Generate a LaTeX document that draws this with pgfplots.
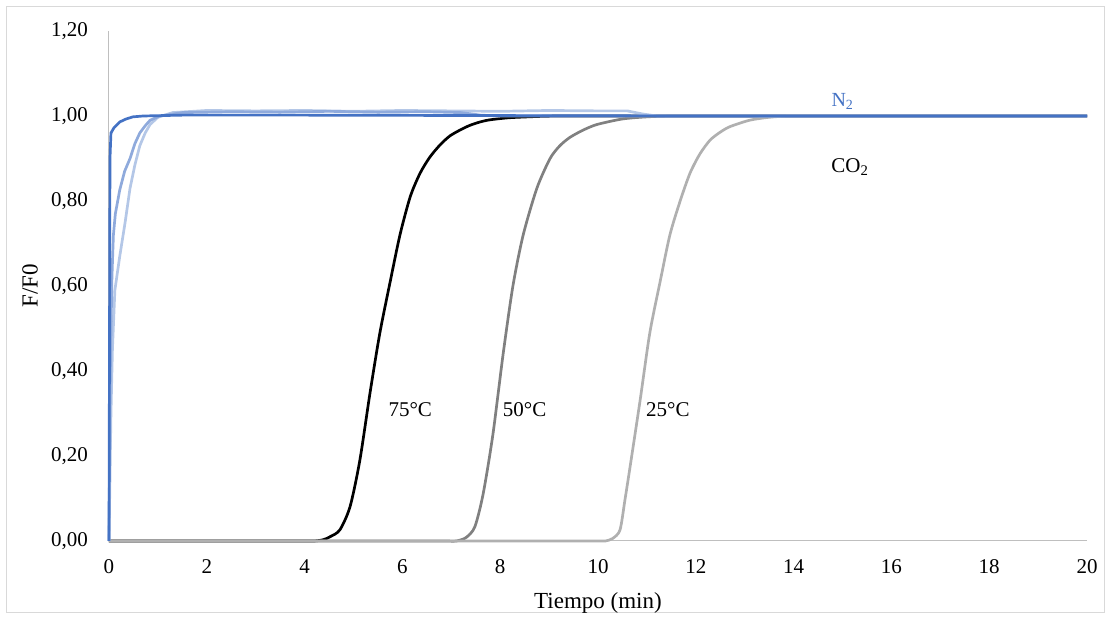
\documentclass[border=0pt]{standalone}
\usepackage{pgfplots}
\pgfplotsset{compat=1.18}
\usepackage{fontspec}
\setmainfont{Liberation Serif}
\definecolor{nA}{HTML}{4472C4}
\definecolor{nB}{HTML}{8FAADC}
\definecolor{nC}{HTML}{B4C7E7}
\definecolor{cB}{HTML}{808080}
\definecolor{cC}{HTML}{B0B0B0}
\definecolor{axgray}{HTML}{BFBFBF}
\definecolor{frame}{HTML}{D9D9D9}

\begin{document}
\begin{tikzpicture}
\useasboundingbox (-109pt,-79pt) rectangle (1000pt,541pt);
\draw[frame, line width=1pt] (-102pt,-72pt) rectangle (995pt,534pt);
\begin{axis}[
    scale only axis,
    width=978pt, height=510pt,
    xmin=0, xmax=20, ymin=0, ymax=1.2,
    xtick={0,2,4,6,8,10,12,14,16,18,20},
    ytick={0,0.2,0.4,0.6,0.8,1.0,1.2},
    yticklabels={{0,00},{0,20},{0,40},{0,60},{0,80},{1,00},{1,20}},
    axis lines*=left,
    axis line style={axgray, line width=1pt},
    major tick length=0pt,
    /pgf/number format/assume math mode=true,
    tick label style={font=\fontsize{21}{25}\selectfont},
    yticklabel style={anchor=east, inner sep=0pt, xshift=-21pt},
    xticklabel style={anchor=center, yshift=-26pt},
    xlabel={Tiempo (min)},
    ylabel={F/F0},
    label style={font=\fontsize{23}{27}\selectfont},
    xlabel style={at={(axis description cs:0.5,-0.1216)}, anchor=center},
    ylabel style={at={(axis description cs:-0.0808,0.5)}, anchor=center},
    clip=false,
    every axis plot/.append style={line width=2.7pt, line join=round},
]
% CO2 75 C
\addplot[black, smooth, tension=0.45] coordinates {
(0,0) (3.6,0) (3.8,0) (4.0,0) (4.2,0) (4.38,0.003) (4.52,0.01) (4.72,0.026)
(4.93,0.081) (5.13,0.19) (5.34,0.35) (5.54,0.49) (5.75,0.61) (5.95,0.72)
(6.16,0.81) (6.36,0.865) (6.56,0.903) (6.77,0.932) (6.97,0.953) (7.18,0.967)
(7.38,0.978) (7.59,0.986) (7.79,0.991) (8.2,0.996) (8.8,0.999) (9.2,1.0)
(9.6,1.0) (10.0,1.0) (20,1.0)
};
% CO2 50 C
\addplot[cB, smooth, tension=0.45] coordinates {
(0,0) (6.5,0) (6.7,0) (6.9,0) (7.1,0) (7.3,0.008) (7.48,0.033) (7.65,0.11)
(7.85,0.25) (8.06,0.44) (8.26,0.60) (8.47,0.72) (8.75,0.83) (9.02,0.90)
(9.22,0.93) (9.43,0.95) (9.7,0.967) (9.98,0.98) (10.5,0.993) (11.0,0.998)
(11.5,1.0) (12.0,1.0) (12.5,1.0) (20,1.0)
};
% CO2 25 C
\addplot[cC, smooth, tension=0.45] coordinates {
(0,0) (9.55,0) (9.75,0) (9.95,0) (10.15,0) (10.3,0.006) (10.45,0.026)
(10.55,0.096) (10.65,0.17) (10.86,0.33) (11.06,0.49) (11.27,0.61) (11.47,0.72)
(11.68,0.80) (11.88,0.865) (12.08,0.91) (12.29,0.943) (12.5,0.962) (12.7,0.975)
(13.1,0.99) (13.5,0.997) (13.9,1.0) (14.3,1.0) (14.7,1.0) (20,1.0)
};
% N2 series
\addplot[nC] coordinates {
(0,0) (0.02,0.15) (0.04,0.3) (0.07,0.45) (0.12,0.59) (0.22,0.67) (0.33,0.75)
(0.43,0.83) (0.53,0.885) (0.63,0.93) (0.74,0.96) (0.84,0.98) (1.0,0.997)
(1.3,1.008) (2,1.013) (3,1.012) (4,1.013) (5,1.011) (6,1.013) (7,1.012)
(8,1.011) (9,1.013) (10,1.012) (10.6,1.012) (10.9,1.005) (11.2,1.0) (20,1.0)
};
\addplot[nB] coordinates {
(0,0) (0.02,0.35) (0.04,0.49) (0.06,0.62) (0.09,0.72) (0.13,0.77) (0.22,0.826)
(0.32,0.87) (0.43,0.90) (0.53,0.935) (0.63,0.96) (0.74,0.977) (0.84,0.99)
(1.04,1.0) (1.5,1.008) (2.5,1.01) (3.5,1.009) (4.5,1.011) (5.5,1.009)
(6.5,1.01) (7.2,1.008) (7.6,1.002) (8.0,1.0) (20,1.0)
};
\addplot[nA] coordinates {
(0,0) (0.02,0.90) (0.04,0.96) (0.1,0.972) (0.22,0.986) (0.35,0.993)
(0.49,0.998) (0.7,1.0) (1.5,1.002) (4,1.002) (8,1.001) (12,1.0) (20,1.0)
};
\node[font=\fontsize{21}{25}\selectfont] at (axis cs:6.16,0.31) {75°C};
\node[font=\fontsize{21}{25}\selectfont] at (axis cs:8.5,0.31) {50°C};
\node[font=\fontsize{21}{25}\selectfont] at (axis cs:11.43,0.31) {25°C};
\node[font=\fontsize{20}{24}\selectfont, text=nA] at (axis cs:15.0,1.035) {N\textsubscript{2}};
\node[font=\fontsize{21}{25}\selectfont] at (axis cs:15.15,0.88) {CO\textsubscript{2}};
\end{axis}
\end{tikzpicture}
\end{document}
